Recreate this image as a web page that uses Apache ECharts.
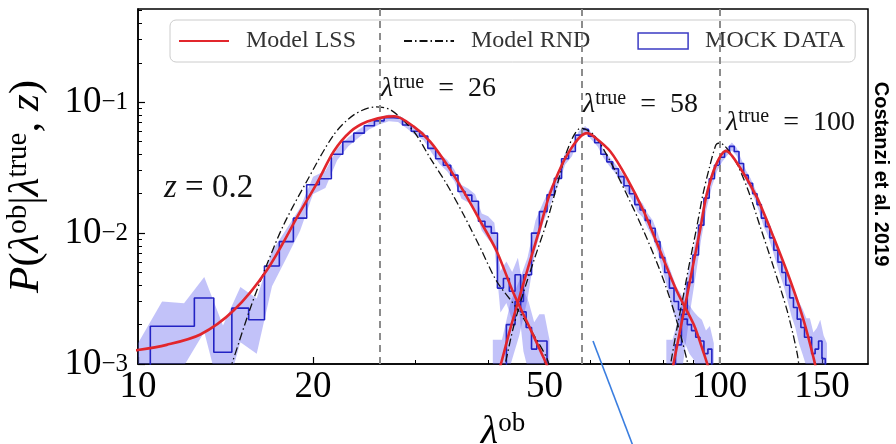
<!DOCTYPE html>
<html><head><meta charset="utf-8">
<script src="https://cdn.jsdelivr.net/npm/echarts@6.0.0/dist/echarts.min.js"></script>
<style>html,body{margin:0;padding:0;background:#fff}#c{width:896px;height:444px}</style>
</head><body><div id="c"></div>
<script>
// ---------------- data ----------------
const xMajorTicks = [10, 20, 50, 100, 150];
const xMinorTicks = [30, 40, 60, 70, 80, 90];
const yMajorTicks = [0.001, 0.01, 0.1];
const yMinorTicks = [0.002,0.003,0.004,0.005,0.006,0.007,0.008,0.009,0.02,0.03,0.04,0.05,0.06,0.07,0.08,0.09,0.2,0.3,0.4,0.5];
const lambdaTrue = [26, 58, 100];

// Model LSS curves [lambda_ob, P]
const lss26 = [[9.5,0.00126],[10,0.00128],[11.2,0.0014],[12.8,0.00168],[14.6,0.00256],[16.65,0.0052],[19.0,0.0145],[20.3,0.0240],[21.7,0.0420],[23.2,0.0597],[24.8,0.0711],[26.8,0.0776],[27.6,0.0780],[29.8,0.0651],[31.8,0.0500],[34.0,0.0332],[36.3,0.0208],[38.8,0.0123],[41.4,0.00724],[44.2,0.0035],[47.2,0.00188],[49.9,0.0011],[51.5,0.0008]];
const lss58 = [[41.5,0.0008],[42.2,0.00105],[43.7,0.00188],[45.4,0.00338],[47.2,0.00607],[49.1,0.0109],[51.0,0.0196],[53.7,0.0340],[55.5,0.0440],[57.5,0.0540],[59.2,0.0580],[60.8,0.0546],[64.9,0.0420],[69.3,0.0263],[74.1,0.0146],[79.1,0.00724],[84.5,0.00358],[90.3,0.0020],[94.0,0.0012],[96.0,0.0009]];
const lss100 = [[82.5,0.0008],[83.5,0.00105],[85.7,0.00188],[88.0,0.00338],[90.3,0.00607],[92.7,0.0109],[95.0,0.0196],[98.6,0.0332],[102.6,0.0425],[108.6,0.0313],[116.1,0.0185],[124.0,0.00916],[132.5,0.00427],[139.7,0.00211],[145.2,0.0011],[147.5,0.0008]];

// Model RND curves [lambda_ob, P]
const rnd26 = [[14.1,0.0007],[14.5,0.001],[15.6,0.00267],[16.65,0.00573],[17.8,0.01156],[19.5,0.0248],[21.7,0.0562],[23.5,0.080],[25.6,0.092],[27.2,0.0873],[29.8,0.0597],[31.8,0.0374],[34.0,0.0234],[36.3,0.0138],[38.8,0.00767],[41.4,0.00427],[44.8,0.00267],[47.9,0.00167],[50.5,0.0011],[51.5,0.0008]];
const rnd58 = [[42.3,0.0008],[42.8,0.001],[44.2,0.0019],[45.9,0.0034],[47.9,0.0061],[50.5,0.0123],[52.4,0.0221],[54.4,0.0400],[56.2,0.0560],[57.7,0.0634],[60.8,0.0562],[64.9,0.0352],[69.3,0.0196],[74.1,0.0103],[79.1,0.0051],[83.5,0.00252],[88.0,0.00105],[89.0,0.0008]];
const rnd100 = [[81.8,0.0008],[82.4,0.001],[84.5,0.00188],[86.7,0.00338],[88.9,0.00607],[91.3,0.0109],[93.6,0.0196],[96.0,0.0313],[98.6,0.0472],[100.0,0.0488],[105.8,0.0374],[111.6,0.0221],[117.7,0.0109],[124.0,0.0054],[130.8,0.00252],[136.1,0.00118],[137.5,0.0008]];

// Mock data histograms: bin left edges, bin width, values, relative band half-width
const hist26Edges = [9.5,10.5,11.5,12.5,13.5,14.5,15.5,16.5,17.5,18.5,19.5,20.5,21.5,22.5,23.5,24.5,25.5,26.5,27.5,28.5,29.5,30.5,31.5,32.5,33.5,34.5,35.5,36.5,37.5,38.5,39.5,40.5,41.5,42.5,43.5,44.5,45.5,46.5,47.5,48.5,49.5,50.5];
const hist26Width = 1;
const hist26P = [0.0009,0.00194,0.00194,0.00319,0.00123,0.00267,0.00218,0.0056,0.0086,0.013,0.0234,0.0260,0.040,0.050,0.058,0.066,0.072,0.076,0.075,0.067,0.060,0.055,0.0444,0.037,0.033,0.0277,0.0208,0.0195,0.0175,0.0123,0.0112,0.0100,0.0038,0.0045,0.0036,0.0048,0.0025,0.0019,0.0013,0.0015,0.0015,0.0009];
const hist26Err = [0.6,0.55,0.5,0.45,0.6,0.45,0.45,0.3,0.25,0.2,0.15,0.15,0.1,0.08,0.07,0.06,0.06,0.06,0.06,0.06,0.07,0.07,0.08,0.09,0.1,0.1,0.12,0.12,0.13,0.15,0.2,0.2,0.35,0.35,0.4,0.35,0.5,0.55,0.6,0.6,0.6,0.7];

const hist58Edges = [40,41.5,43,44.5,46,47.5,49,50.5,52,53.5,55,56.5,58,59.5,61,62.5,64,65.5,67,68.5,70,71.5,73,74.5,76,77.5,79,80.5,82,83.5,85,86.5,88,89.5,91,92.5,94,95.5,97];
const hist58Width = 1.5;
const hist58P = [0.0009,0.0009,0.0020,0.0030,0.0048,0.0100,0.0146,0.0196,0.0262,0.037,0.042,0.056,0.062,0.055,0.049,0.040,0.035,0.031,0.027,0.023,0.020,0.0165,0.0150,0.0125,0.0109,0.0086,0.0065,0.0050,0.0038,0.0030,0.0026,0.0022,0.0020,0.0018,0.0016,0.0015,0.0012,0.0013,0.0009];
const hist58Err = [0.7,0.7,0.5,0.45,0.35,0.25,0.18,0.15,0.12,0.1,0.08,0.07,0.06,0.06,0.07,0.07,0.08,0.08,0.09,0.1,0.1,0.12,0.12,0.13,0.15,0.17,0.2,0.22,0.28,0.3,0.33,0.35,0.4,0.4,0.45,0.45,0.5,0.5,0.6];

const hist100Edges = [80,82,84,86,88,90,92,94,96,98,100,102,104,106,108,110,112,114,116,118,120,122,124,126,128,130,132,134,136,138,140,142,144,146,148,150,152];
const hist100Width = 2;
const hist100P = [0.0009,0.0009,0.0014,0.0024,0.0042,0.0068,0.0115,0.0185,0.026,0.033,0.0380,0.0420,0.0460,0.0420,0.0340,0.0277,0.0240,0.0200,0.0165,0.0130,0.0112,0.0092,0.0074,0.0060,0.0050,0.0040,0.0032,0.0027,0.0022,0.0019,0.0016,0.0016,0.0012,0.0013,0.0015,0.0011,0.0009];
const hist100Err = [0.7,0.7,0.6,0.5,0.4,0.3,0.22,0.17,0.13,0.1,0.08,0.07,0.07,0.07,0.08,0.09,0.1,0.1,0.12,0.13,0.14,0.16,0.18,0.2,0.22,0.25,0.28,0.3,0.35,0.38,0.4,0.4,0.45,0.45,0.45,0.5,0.6];

// ---------------- styling ----------------
const SERIF = 'Liberation Serif';
const RED = '#e2262c';
const BLUE = '#2323c4';
const BAND = 'rgba(95,95,240,0.38)';
const tickRich = {
  b: {fontFamily: SERIF, fontSize: 37, color: '#000', lineHeight: 24},
  s: {fontFamily: SERIF, fontSize: 25, color: '#000', verticalAlign: 'top', lineHeight: 10}
};
const nameRich = {
  b: {fontFamily: SERIF, fontSize: 40, color: '#000', lineHeight: 44},
  s: {fontFamily: SERIF, fontSize: 27, color: '#000', verticalAlign: 'top', lineHeight: 28},
  i: {fontFamily: SERIF, fontSize: 40, fontStyle: 'italic', color: '#000', lineHeight: 44}
};
const yNameRich = {
  b: {fontFamily: SERIF, fontSize: 43, color: '#000', lineHeight: 46},
  s: {fontFamily: SERIF, fontSize: 29, color: '#000', verticalAlign: 'top', lineHeight: 30},
  i: {fontFamily: SERIF, fontSize: 43, fontStyle: 'italic', color: '#000', lineHeight: 46}
};
const annRich = {
  l: {fontFamily: SERIF, fontSize: 28, fontStyle: 'italic', lineHeight: 32, fill: '#111'},
  s: {fontFamily: SERIF, fontSize: 20, verticalAlign: 'top', lineHeight: 20, fill: '#111'},
  n: {fontFamily: SERIF, fontSize: 28, lineHeight: 32, fill: '#111'}
};

function stepData(edges, width, vals) {
  const d = edges.map((e, i) => [e, vals[i]]);
  d.push([edges[edges.length - 1] + width, vals[vals.length - 1]]);
  return d;
}
function bandSeries(edges, width, vals, errs) {
  return {
    type: 'custom', name: 'band', coordinateSystem: 'cartesian2d', clip: true, silent: true, z: 1,
    data: [[edges[0] + width / 2, vals[0]]],
    renderItem: function (params, api) {
      const up = [], lo = [];
      for (let i = 0; i < vals.length; i++) {
        const c = edges[i] + width / 2;
        up.push(api.coord([c, vals[i] * (1 + errs[i])]));
        lo.push(api.coord([c, Math.max(vals[i] * (1 - errs[i]), 1e-5)]));
      }
      return {type: 'polygon', shape: {points: up.concat(lo.reverse())}, style: {fill: BAND, stroke: null}};
    }
  };
}
function histSeries(edges, width, vals, withMarks) {
  const s = {
    type: 'line', name: 'MOCK DATA', step: 'end', symbol: 'none', z: 3,
    data: stepData(edges, width, vals),
    lineStyle: {color: BLUE, width: 1.6}, itemStyle: {color: BLUE}
  };
  if (withMarks) {
    s.markLine = {
      silent: true, symbol: ['none', 'none'], label: {show: false},
      lineStyle: {color: '#8c8c8c', type: [7, 5], width: 2},
      data: lambdaTrue.map(v => ({xAxis: v}))
    };
  }
  return s;
}
function curve(name, data, isRed) {
  return {
    type: 'line', name: name, data: data, symbol: 'none', smooth: 0.3, z: isRed ? 5 : 4,
    lineStyle: isRed ? {color: RED, width: 2.6} : {color: '#111', width: 1.3, type: [8, 3, 1.5, 3]},
    itemStyle: {color: isRed ? RED : '#111'}
  };
}

const chart = echarts.init(document.getElementById('c'), null, {renderer: 'canvas'});
const gridRect = {left: 138, right: 28, top: 9, bottom: 80, containLabel: false, outerBoundsMode: 'none'};
chart.setOption({
  animation: false,
  backgroundColor: '#fff',
  grid: [
    Object.assign({show: true, borderColor: '#000', borderWidth: 1.5, backgroundColor: 'transparent'}, gridRect),
    Object.assign({show: false}, gridRect)
  ],
  legend: {
    left: 170, top: 20, padding: [9, 10, 9, 8], itemGap: 47, itemWidth: 50, itemHeight: 16,
    backgroundColor: 'rgba(255,255,255,0.85)', borderColor: '#cccccc', borderWidth: 1, borderRadius: 6,
    textStyle: {fontFamily: SERIF, fontSize: 24, color: '#333', padding: [0, 0, 0, 12]},
    data: [
      {name: 'Model LSS', itemStyle: {opacity: 0}},
      {name: 'Model RND', itemStyle: {opacity: 0}},
      {name: 'MOCK DATA', icon: 'rect', itemStyle: {color: 'rgba(255,255,255,0)', borderColor: '#3b3bc4', borderWidth: 1.5}}
    ]
  },
  xAxis: [
    {
      type: 'log', logBase: 10, min: 10, max: 180, gridIndex: 0,
      axisLine: {show: true, onZero: false, lineStyle: {color: '#000', width: 1.5}},
      axisTick: {show: true, inside: true, length: 7, customValues: xMajorTicks, lineStyle: {color: '#000', width: 1.2}},
      axisLabel: {customValues: xMajorTicks, fontFamily: SERIF, fontSize: 37, color: '#000', margin: 8, lineHeight: 30, formatter: v => String(Math.round(v))},
      splitLine: {show: false}, minorTick: {show: false},
      name: '{i|λ}{s|ob}', nameLocation: 'middle', nameGap: 42,
      nameTextStyle: {rich: nameRich}
    },
    {
      type: 'log', logBase: 10, min: 10, max: 180, gridIndex: 1,
      axisLine: {show: false},
      axisTick: {show: true, inside: true, length: 4, customValues: xMinorTicks, lineStyle: {color: '#000', width: 1}},
      axisLabel: {show: false}, splitLine: {show: false}
    }
  ],
  yAxis: [
    {
      type: 'log', logBase: 10, min: 0.001, max: 0.515, gridIndex: 0,
      axisLine: {show: true, onZero: false, lineStyle: {color: '#000', width: 1.5}},
      axisTick: {show: true, inside: true, length: 7, customValues: yMajorTicks, lineStyle: {color: '#000', width: 1.2}},
      axisLabel: {
        customValues: yMajorTicks, margin: 10,
        formatter: v => '{b|10}{s|−' + Math.round(-Math.log10(v)) + '}', rich: tickRich
      },
      splitLine: {show: false}, minorTick: {show: false},
      name: '{i|P}{b|(}{i|λ}{s|ob}{b||}{i|λ}{s|true}{b|, }{i|z}{b|)}', nameLocation: 'middle', nameGap: 88, nameRotate: 90,
      nameTextStyle: {rich: yNameRich}
    },
    {
      type: 'log', logBase: 10, min: 0.001, max: 0.515, gridIndex: 1,
      axisLine: {show: false},
      axisTick: {show: true, inside: true, length: 4, customValues: yMinorTicks, lineStyle: {color: '#000', width: 1}},
      axisLabel: {show: false}, splitLine: {show: false}
    }
  ],
  series: [
    bandSeries(hist26Edges, hist26Width, hist26P, hist26Err),
    bandSeries(hist58Edges, hist58Width, hist58P, hist58Err),
    bandSeries(hist100Edges, hist100Width, hist100P, hist100Err),
    histSeries(hist26Edges, hist26Width, hist26P, true),
    histSeries(hist58Edges, hist58Width, hist58P, false),
    histSeries(hist100Edges, hist100Width, hist100P, false),
    curve('Model RND', rnd26, false),
    curve('Model RND', rnd58, false),
    curve('Model RND', rnd100, false),
    curve('Model LSS', lss26, true),
    curve('Model LSS', lss58, true),
    curve('Model LSS', lss100, true)
  ],
  graphic: [
    {type: 'text', left: 381, top: 73, z: 20, style: {text: '{l|λ}{s|true}{n|  =  26}', rich: annRich}},
    {type: 'text', left: 583, top: 89, z: 20, style: {text: '{l|λ}{s|true}{n|  =  58}', rich: annRich}},
    {type: 'text', left: 726, top: 107, z: 20, style: {text: '{l|λ}{s|true}{n|  =  100}', rich: annRich}},
    {type: 'text', left: 164, top: 172, z: 20, style: {text: '{i|z}{n| = 0.2}', rich: {
      i: {fontFamily: SERIF, fontSize: 33, fontStyle: 'italic', fill: '#111'}, n: {fontFamily: SERIF, fontSize: 33, fill: '#111'}}}},
    {type: 'text', x: 881, y: 174, rotation: -Math.PI / 2, z: 20,
      style: {text: 'Costanzi et al. 2019', fontFamily: 'Liberation Sans', fontWeight: 'bold', fontSize: 20, fill: '#000', align: 'center', verticalAlign: 'middle'}},
    {type: 'line', z: 20, shape: {x1: 593, y1: 341, x2: 633, y2: 446}, style: {stroke: '#3a7ee0', lineWidth: 1.6}}
  ]
});
</script>
</body></html>
